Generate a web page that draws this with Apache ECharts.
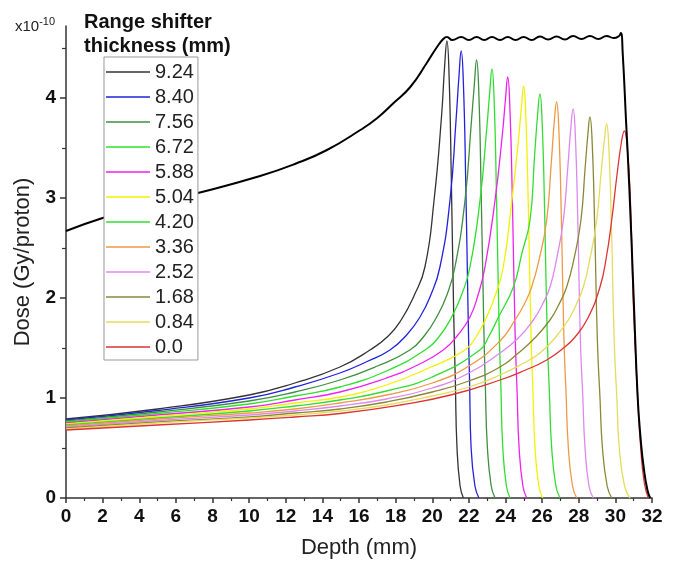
<!DOCTYPE html>
<html>
<head>
<meta charset="utf-8">
<script src="https://cdn.jsdelivr.net/npm/echarts@6/dist/echarts.min.js"></script>
<style>
html,body{margin:0;padding:0;background:#fff;}
#chart{width:692px;height:568px;}
</style>
</head>
<body>
<div id="chart"></div>
<script>
// Legend names (range shifter thickness, mm)
const thicknessNames = ['9.24','8.40','7.56','6.72','5.88','5.04','4.20','3.36','2.52','1.68','0.84','0.0'];
const lineColors = ['#333333','#2222dd','#3f8f3f','#2ee02e','#ee22ee','#f2f200','#33dd33','#ee9944','#dd88ee','#8a8838','#e6dc5c','#dd3333'];

// Depth-dose curves [depth (mm), dose (x1e-10 Gy/proton)]
const c924 = [[0,0.79],[5,0.89],[10,1.03],[12.5,1.15],[14.96,1.31],[16.6,1.48],[17.6,1.62],[18.3,1.78],[19.0,2.02],[19.6,2.31],[20.1,2.98],[20.5,3.80],[20.68,4.33],[20.8,4.57],[20.92,4.22],[21.04,3.2],[21.17,1.85],[21.26,1.18],[21.35,0.51],[21.52,0.12],[21.7,0]];
const c840 = [[0,0.78],[5,0.875],[10,1.00],[12.5,1.11],[14.96,1.25],[16.5,1.37],[17.69,1.48],[18.6,1.63],[19.33,1.81],[19.9,2.02],[20.42,2.31],[20.97,2.98],[21.3,3.78],[21.46,4.22],[21.58,4.47],[21.7,4.15],[21.83,3.15],[21.96,1.82],[22.04,1.15],[22.12,0.51],[22.33,0.12],[22.55,0]];
const c756 = [[0,0.77],[5,0.86],[10,0.97],[12.5,1.06],[14.96,1.18],[17,1.32],[18.78,1.48],[19.6,1.63],[20.24,1.81],[20.8,2.03],[21.24,2.31],[21.79,2.98],[22.12,3.72],[22.3,4.14],[22.42,4.38],[22.54,4.07],[22.67,3.07],[22.81,1.76],[22.9,1.12],[23.01,0.51],[23.22,0.12],[23.43,0]];
const c672 = [[0,0.76],[5,0.845],[10,0.94],[12.5,1.02],[14.96,1.11],[17.5,1.27],[19.6,1.48],[20.4,1.62],[21.06,1.81],[21.6,2.03],[22.06,2.31],[22.61,2.98],[22.96,3.66],[23.14,4.06],[23.26,4.29],[23.38,3.98],[23.51,3.0],[23.65,1.72],[23.75,1.1],[23.85,0.51],[24.05,0.12],[24.25,0]];
const c588 = [[0,0.75],[5,0.83],[10,0.91],[12.5,0.98],[14.96,1.06],[17.5,1.2],[19.2,1.33],[20.6,1.48],[21.4,1.63],[22.06,1.81],[22.5,2.03],[22.88,2.31],[23.43,2.98],[23.82,3.62],[24.0,3.99],[24.12,4.21],[24.24,3.9],[24.38,2.94],[24.52,1.68],[24.63,1.08],[24.74,0.51],[24.95,0.12],[25.16,0]];
const c504 = [[0,0.74],[5,0.815],[10,0.89],[12.5,0.95],[14.96,1.01],[17.5,1.13],[19.8,1.3],[21.79,1.48],[22.45,1.63],[22.97,1.81],[23.45,2.03],[23.88,2.31],[24.35,2.98],[24.69,3.55],[24.87,3.91],[24.99,4.12],[25.11,3.82],[25.25,2.88],[25.39,1.65],[25.5,1.06],[25.61,0.51],[25.82,0.12],[26.03,0]];
const c420 = [[0,0.73],[5,0.80],[10,0.87],[12.5,0.92],[14.96,0.98],[17.5,1.07],[20,1.21],[22.6,1.48],[23.1,1.62],[23.62,1.81],[24.43,2.11],[24.9,2.45],[25.34,2.78],[25.58,3.4],[25.76,3.85],[25.88,4.04],[26.0,3.76],[26.14,2.84],[26.28,1.62],[26.4,1.04],[26.52,0.51],[26.75,0.12],[26.98,0]];
const c336 = [[0,0.72],[5,0.79],[10,0.85],[12.5,0.89],[14.96,0.95],[17.5,1.03],[20,1.15],[22,1.32],[23.7,1.57],[24.52,1.78],[25.0,1.93],[25.43,2.11],[25.88,2.42],[26.25,2.78],[26.5,3.35],[26.67,3.78],[26.79,3.96],[26.91,3.7],[27.05,2.8],[27.19,1.6],[27.31,1.03],[27.43,0.51],[27.66,0.12],[27.89,0]];
const c252 = [[0,0.71],[5,0.775],[10,0.83],[12.5,0.87],[14.96,0.92],[17.5,0.99],[20,1.1],[22,1.25],[23.7,1.45],[24.7,1.6],[25.52,1.78],[26.0,1.93],[26.43,2.11],[26.8,2.4],[27.16,2.78],[27.4,3.3],[27.57,3.71],[27.69,3.89],[27.81,3.64],[27.95,2.76],[28.09,1.58],[28.22,1.02],[28.34,0.51],[28.56,0.12],[28.79,0]];
const c168 = [[0,0.70],[5,0.76],[10,0.81],[12.5,0.85],[14.96,0.89],[17.5,0.96],[20,1.06],[22,1.17],[23.7,1.31],[24.7,1.45],[25.6,1.6],[26.43,1.78],[26.9,1.93],[27.34,2.11],[27.75,2.4],[28.12,2.78],[28.34,3.28],[28.5,3.64],[28.61,3.81],[28.73,3.57],[28.87,2.72],[29.02,1.56],[29.16,1.0],[29.29,0.51],[29.55,0.12],[29.8,0]];
const c084 = [[0,0.69],[5,0.75],[10,0.80],[12.5,0.83],[14.96,0.87],[17.5,0.93],[20,1.02],[22,1.11],[23.7,1.23],[25.0,1.35],[25.88,1.45],[26.7,1.6],[27.43,1.78],[27.85,1.93],[28.25,2.11],[28.62,2.4],[28.98,2.78],[29.22,3.25],[29.4,3.58],[29.52,3.74],[29.64,3.52],[29.79,2.68],[29.94,1.55],[30.08,1.0],[30.21,0.51],[30.5,0.12],[30.8,0]];
const c000 = [[0,0.68],[5,0.73],[10,0.78],[12.5,0.81],[14.96,0.845],[18.25,0.93],[21,1.03],[23.7,1.18],[25.1,1.28],[26.25,1.38],[27.1,1.49],[27.8,1.61],[28.5,1.8],[29.16,2.11],[29.5,2.4],[29.8,2.78],[30.1,3.25],[30.35,3.58],[30.49,3.67],[30.65,3.5],[30.82,2.98],[30.97,2.0],[31.1,1.45],[31.22,1.0],[31.38,0.51],[31.58,0.15],[31.8,0]];
// Spread-out Bragg peak (sum)
const sobp = [[0,2.67],[2,2.80],[4.5,2.93],[7.2,3.05],[10.6,3.22],[12.5,3.34],[14.25,3.48],[16.07,3.68],[17.0,3.80],[17.89,3.95],[18.8,4.11],[19.7,4.35],[20.26,4.51],[20.6,4.59],[20.8,4.61],[21.1,4.58],[21.58,4.61],[22.0,4.58],[22.42,4.61],[22.84,4.58],[23.26,4.61],[23.7,4.58],[24.12,4.61],[24.55,4.58],[24.99,4.61],[25.43,4.58],[25.88,4.615],[26.33,4.585],[26.79,4.615],[27.24,4.585],[27.69,4.62],[28.15,4.59],[28.61,4.62],[29.07,4.59],[29.52,4.62],[29.9,4.6],[30.2,4.62],[30.3,4.65],[30.4,4.45],[30.58,3.78],[30.76,3.11],[31.0,2.0],[31.22,1.0],[31.4,0.55],[31.55,0.3],[31.75,0.08],[31.9,0]];

const curves = [c924,c840,c756,c672,c588,c504,c420,c336,c252,c168,c084,c000];
const yMajorTicks = [0,1,2,3,4];
const yMinorTicks = [0.5,1.5,2.5,3.5,4.5];

const FONT = 'Liberation Sans, Arial, sans-serif';
const chart = echarts.init(document.getElementById('chart'), null, {renderer:'canvas'});

const LEG_ICON = 'path://M0,0 H44 V1.4 H0 Z';

const series = curves.map((d,i)=>({
  name: thicknessNames[i],
  type:'line',
  data:d,
  smooth:0.5,
  symbol:'none',
  legendIcon: LEG_ICON,
  lineStyle:{color:lineColors[i], width:1.3},
  itemStyle:{color:lineColors[i]},
  emphasis:{disabled:true},
  z:2
}));
series.push({
  name:'SOBP',
  type:'line',
  data:sobp,
  smooth:0.5,
  symbol:'none',
  lineStyle:{color:'#000', width:2},
  emphasis:{disabled:true},
  z:3
});

const axisLineStyle = {color:'#333', width:1.5};

chart.setOption({
  animation:false,
  backgroundColor:'#fff',
  grid:{left:66, right:40, top:26, bottom:70, containLabel:false},
  title:{
    text:'Range shifter\nthickness (mm)',
    left:79, top:5,
    textStyle:{fontFamily:FONT, fontWeight:'bold', fontSize:20, lineHeight:24, color:'#111'}
  },
  legend:{
    data:thicknessNames,
    orient:'vertical',
    left:104, top:57,
    icon: LEG_ICON,
    itemWidth:44, itemHeight:20, itemGap:5,
    symbolKeepAspect:true,
    padding:[5,4,3,2],
    borderColor:'#999', borderWidth:1,
    backgroundColor:'#fff',
    textStyle:{fontFamily:FONT, fontSize:20, color:'#222'},
    selectedMode:false
  },
  xAxis:{
    type:'value', min:0, max:32, interval:2,
    name:'Depth (mm)', nameLocation:'middle', nameGap:39,
    nameTextStyle:{fontFamily:FONT, fontSize:22, color:'#222'},
    axisLine:{show:true, lineStyle:axisLineStyle},
    axisTick:{show:true, length:5, inside:false, lineStyle:{color:'#333', width:1.5}},
    minorTick:{show:true, splitNumber:2, length:3, lineStyle:{color:'#333', width:1.2}},
    axisLabel:{fontFamily:FONT, fontSize:19, fontWeight:'bold', color:'#111', margin:9},
    splitLine:{show:false}, minorSplitLine:{show:false}
  },
  yAxis:[{
    type:'value', min:0, max:4.72,
    name:'Dose (Gy/proton)', nameLocation:'middle', nameGap:32, nameRotate:90,
    nameTextStyle:{fontFamily:FONT, fontSize:22, color:'#222'},
    axisLine:{show:true, lineStyle:axisLineStyle},
    axisTick:{show:true, length:6, customValues:yMajorTicks, lineStyle:{color:'#333', width:1.5}},
    axisLabel:{customValues:yMajorTicks, fontFamily:FONT, fontSize:19, fontWeight:'bold', color:'#111', margin:10},
    splitLine:{show:false}
  },{
    type:'value', min:0, max:4.72, position:'left', offset:0,
    axisLine:{show:false},
    axisTick:{show:true, length:4, customValues:yMinorTicks, lineStyle:{color:'#333', width:1.2}},
    axisLabel:{show:false},
    splitLine:{show:false}
  }],
  graphic:[{
    type:'text', left:15, top:16,
    style:{
      text:'x10{s|-10}',
      fontFamily:FONT, fontSize:15, fill:'#222',
      rich:{s:{fontSize:11, verticalAlign:'top', padding:[0,0,11,0], fontFamily:FONT, fill:'#222'}}
    }
  }],
  series:series
});
</script>
</body>
</html>
